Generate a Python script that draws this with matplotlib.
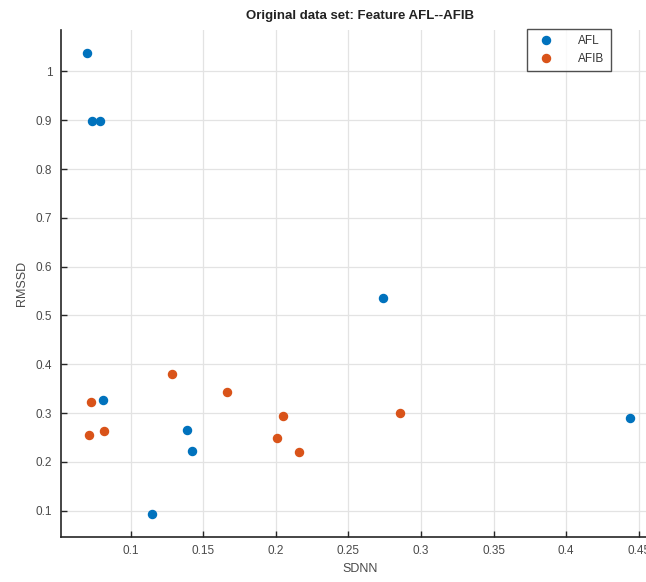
import matplotlib
matplotlib.use("Agg")
import matplotlib.pyplot as plt

plt.rcParams['font.family'] = ['Liberation Sans', 'DejaVu Sans']

afl_x = [0.0701, 0.0731, 0.0788, 0.0811, 0.1149, 0.1388, 0.1425, 0.2741, 0.4441]
afl_y = [1.038, 0.899, 0.899, 0.326, 0.093, 0.266, 0.223, 0.536, 0.290]
afib_x = [0.0726, 0.0711, 0.0818, 0.1282, 0.1664, 0.2052, 0.2006, 0.2162, 0.2859]
afib_y = [0.323, 0.256, 0.263, 0.381, 0.343, 0.295, 0.248, 0.221, 0.300]

xticks = [0.1, 0.15, 0.2, 0.25, 0.3, 0.35, 0.4, 0.45]
xticklabels = ['0.1', '0.15', '0.2', '0.25', '0.3', '0.35', '0.4', '0.45']
yticks = [0.1, 0.2, 0.3, 0.4, 0.5, 0.6, 0.7, 0.8, 0.9, 1.0]
yticklabels = ['0.1', '0.2', '0.3', '0.4', '0.5', '0.6', '0.7', '0.8', '0.9', '1']

W, H = 646, 582
fig = plt.figure(figsize=(W / 100, H / 100), dpi=100)
left, right, top, bottom = 60.7, 659, 30, 536.7
ax = fig.add_axes([left / W, 1 - bottom / H, (right - left) / W, (bottom - top) / H])

blue = '#0072BD'
orange = '#D95319'
ax.plot(afl_x, afl_y, 'o', color=blue, markersize=5.8, label='AFL')
ax.plot(afib_x, afib_y, 'o', color=orange, markersize=5.8, label='AFIB')

ax.set_xlim(0.0518, 0.464)
ax.set_ylim(0.0467, 1.085)
ax.set_xticks(xticks)
ax.set_xticklabels(xticklabels)
ax.set_yticks(yticks)
ax.set_yticklabels(yticklabels)

ax.grid(True, color='#e3e3e3', linewidth=0.9)
ax.set_axisbelow(True)
for s in ['top', 'right']:
    ax.spines[s].set_visible(False)
for s in ['left', 'bottom']:
    ax.spines[s].set_color('#262626')
    ax.spines[s].set_linewidth(1.2)
ax.tick_params(direction='in', length=4, width=1, color='#262626',
               labelsize=8.5, labelcolor='#4a4a4a', pad=6)

ax.set_xlabel('SDNN', fontsize=9, color='#4a4a4a', labelpad=4)
ax.set_ylabel('RMSSD', fontsize=9, color='#4a4a4a', labelpad=6)
ax.set_title('Original data set: Feature AFL--AFIB', fontsize=9.5, color='#222222',
             fontweight='bold', pad=8)

leg = fig.legend(loc='upper left', bbox_to_anchor=(527 / W, 1 - 29 / H),
                 fontsize=8.5, frameon=True, fancybox=False, edgecolor='#262626',
                 handletextpad=1.6, borderpad=0.55, labelspacing=0.45,
                 handlelength=2.2, borderaxespad=0)
leg.get_frame().set_linewidth(1.0)
for t in leg.get_texts():
    t.set_color('#333333')

fig.savefig('out.png', dpi=100)
